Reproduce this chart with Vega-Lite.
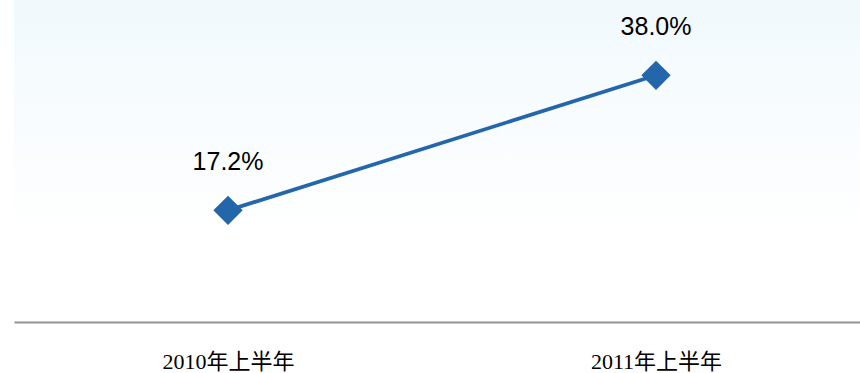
{
  "$schema": "https://vega.github.io/schema/vega-lite/v6.json",
  "width": 846,
  "height": 322,
  "autosize": {"type": "none"},
  "padding": {"left": 14, "top": 0, "right": 0, "bottom": 51},
  "background": "#ffffff",
  "config": {
    "view": {
      "stroke": null,
      "fill": {
        "gradient": "linear",
        "x1": 0, "y1": 0, "x2": 0, "y2": 1,
        "stops": [
          {"offset": 0, "color": "#f1f9fd"},
          {"offset": 0.75, "color": "#ffffff"},
          {"offset": 1, "color": "#ffffff"}
        ]
      }
    }
  },
  "data": {
    "values": [
      {"period": "2010年上半年", "value": 17.2, "label": "17.2%"},
      {"period": "2011年上半年", "value": 38.0, "label": "38.0%"}
    ]
  },
  "encoding": {
    "x": {
      "field": "period",
      "type": "ordinal",
      "sort": null,
      "scale": {"type": "point", "padding": 0.4883, "align": 0.512},
      "axis": {
        "title": null,
        "domainColor": "#919191",
        "domainWidth": 2,
        "ticks": false,
        "tickSize": 0,
        "grid": false,
        "labelAngle": 0,
        "labelFont": "Liberation Serif, Noto Sans CJK SC",
        "labelFontSize": 22,
        "labelColor": "#000000",
        "labelBaseline": "alphabetic",
        "labelPadding": 46
      }
    },
    "y": {
      "field": "value",
      "type": "quantitative",
      "scale": {"domain": [0, 49.6], "nice": false, "zero": true},
      "axis": null
    }
  },
  "layer": [
    {
      "mark": {"type": "line", "color": "#2466aa", "strokeWidth": 3.8}
    },
    {
      "mark": {"type": "point", "shape": "diamond", "filled": true, "size": 860, "color": "#2466aa", "opacity": 1}
    },
    {
      "mark": {
        "type": "text",
        "font": "Liberation Sans",
        "fontSize": 25,
        "color": "#000000",
        "baseline": "alphabetic",
        "align": "center",
        "dy": -40
      },
      "encoding": {"text": {"field": "label"}}
    }
  ]
}
